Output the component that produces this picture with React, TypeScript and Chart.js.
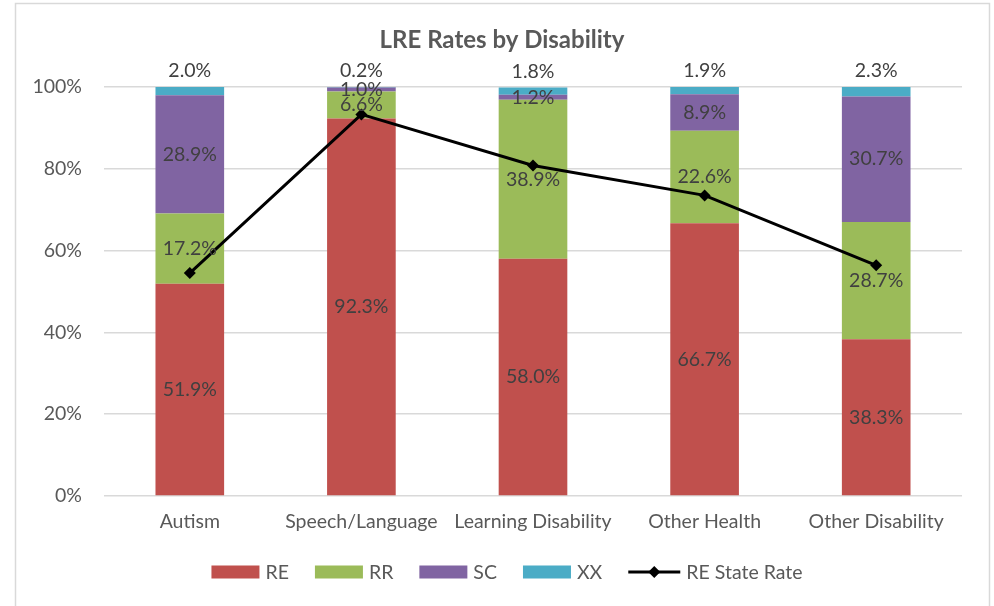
import React, { useEffect, useRef } from "react";
import { Chart, registerables } from "chart.js";

Chart.register(...registerables);

const categories = ["Autism", "Speech/Language", "Learning Disability", "Other Health", "Other Disability"];
const reValues = [51.9, 92.3, 58.0, 66.7, 38.3];
const rrValues = [17.2, 6.6, 38.9, 22.6, 28.7];
const scValues = [28.9, 1.0, 1.2, 8.9, 30.7];
const xxValues = [2.0, 0.2, 1.8, 1.9, 2.3];
const stateRate = [54.5, 93.3, 80.8, 73.5, 56.4];
const yTicks = [0, 20, 40, 60, 80, 100];

const FONT = "Lato, 'Open Sans', sans-serif";
const TEXT = "#595959";
const LABEL = "#404040";
const FS = 19.5;

const colors = { RE: "#C0504D", RR: "#9BBB59", SC: "#8064A2", XX: "#4BACC6" };

const decorPlugin = {
  id: "decor",
  beforeDraw(chart: any) {
    const ctx = chart.ctx;
    ctx.save();
    ctx.fillStyle = "#FFFFFF";
    ctx.fillRect(0, 0, chart.width, chart.height);
    ctx.strokeStyle = "#D9D9D9";
    ctx.lineWidth = 1.5;
    ctx.strokeRect(15.5, 3.5, 974, 640);
    ctx.restore();
  },
  afterDatasetsDraw(chart: any) {
    const ctx = chart.ctx;
    ctx.save();
    ctx.font = `${FS}px ${FONT}`;
    ctx.fillStyle = LABEL;
    ctx.textAlign = "center";
    ctx.textBaseline = "middle";
    for (let d = 0; d < 4; d++) {
      const meta = chart.getDatasetMeta(d);
      const ds = chart.data.datasets[d];
      meta.data.forEach((el: any, i: number) => {
        const v = ds.data[i] as number;
        const txt = v.toFixed(1) + "%";
        let y = (el.y + el.base) / 2;
        if (d === 3) y = el.y - 16;
        ctx.fillText(txt, el.x, y);
      });
    }
    ctx.restore();
  },
  afterDraw(chart: any) {
    const ctx = chart.ctx;
    ctx.save();
    // title
    ctx.font = `bold 24px ${FONT}`;
    ctx.fillStyle = TEXT;
    ctx.textAlign = "center";
    ctx.textBaseline = "middle";
    ctx.fillText("LRE Rates by Disability", 502, 40);

    // legend
    ctx.font = `${FS}px ${FONT}`;
    const items = [
      { name: "RE", color: colors.RE, line: false },
      { name: "RR", color: colors.RR, line: false },
      { name: "SC", color: colors.SC, line: false },
      { name: "XX", color: colors.XX, line: false },
      { name: "RE State Rate", color: "#000000", line: true },
    ];
    const boxW = 48;
    const lineW = 52;
    const gapText = 6;
    const gapItem = 26;
    let total = 0;
    items.forEach((it, idx) => {
      total += (it.line ? lineW : boxW) + gapText + ctx.measureText(it.name).width;
      if (idx < items.length - 1) total += gapItem;
    });
    let x = 507 - total / 2;
    const cy = 572;
    ctx.textAlign = "left";
    items.forEach((it) => {
      if (it.line) {
        ctx.strokeStyle = "#000";
        ctx.lineWidth = 3;
        ctx.beginPath();
        ctx.moveTo(x, cy);
        ctx.lineTo(x + lineW, cy);
        ctx.stroke();
        ctx.fillStyle = "#000";
        const mx = x + lineW / 2;
        ctx.beginPath();
        ctx.moveTo(mx, cy - 6);
        ctx.lineTo(mx + 6, cy);
        ctx.lineTo(mx, cy + 6);
        ctx.lineTo(mx - 6, cy);
        ctx.closePath();
        ctx.fill();
        x += lineW;
      } else {
        ctx.fillStyle = it.color;
        ctx.fillRect(x, cy - 6.5, boxW, 13);
        x += boxW;
      }
      x += gapText;
      ctx.fillStyle = TEXT;
      ctx.fillText(it.name, x, cy + 1);
      x += ctx.measureText(it.name).width + gapItem;
    });
    ctx.restore();
  },
};

export default function App() {
  const ref = useRef<HTMLCanvasElement | null>(null);

  useEffect(() => {
    document.body.style.margin = "0";
    if (!ref.current) return;
    const barDs = (label: string, data: number[], color: string) => ({
      type: "bar" as const,
      label,
      data,
      backgroundColor: color,
      borderWidth: 0,
      stack: "s",
      order: 2,
      categoryPercentage: 1,
      barPercentage: 0.4,
    });
    const chart = new Chart(ref.current, {
      type: "bar",
      data: {
        labels: categories,
        datasets: [
          barDs("RE", reValues, colors.RE),
          barDs("RR", rrValues, colors.RR),
          barDs("SC", scValues, colors.SC),
          barDs("XX", xxValues, colors.XX),
          {
            type: "line" as const,
            label: "RE State Rate",
            data: stateRate,
            borderColor: "#000000",
            backgroundColor: "#000000",
            borderWidth: 3,
            pointStyle: "rectRot",
            pointRadius: 6,
            pointBorderWidth: 0,
            stack: "line",
            order: 1,
            tension: 0,
          } as any,
        ],
      },
      options: {
        animation: false,
        responsive: false,
        maintainAspectRatio: false,
        layout: { padding: { left: 0, right: 32, top: 87, bottom: 0 } },
        plugins: {
          legend: { display: false },
          title: { display: false },
          tooltip: { enabled: false },
        },
        scales: {
          x: {
            stacked: true,
            grid: { display: false, drawTicks: false },
            border: { display: false },
            ticks: {
              color: TEXT,
              font: { family: FONT, size: FS },
              padding: 14,
              maxRotation: 0,
              autoSkip: false,
            },
            afterFit(scale: any) {
              scale.height = 110;
            },
          },
          y: {
            stacked: true,
            min: 0,
            max: 100,
            afterBuildTicks(scale: any) {
              scale.ticks = yTicks.map((v) => ({ value: v }));
            },
            grid: { color: "#D9D9D9", lineWidth: 1.5, drawTicks: false },
            border: { display: false },
            ticks: {
              color: TEXT,
              font: { family: FONT, size: FS },
              padding: 22,
              callback: (v: any) => v + "%",
            },
            afterFit(scale: any) {
              scale.width = 104;
            },
          },
        },
      },
      plugins: [decorPlugin],
    });
    return () => chart.destroy();
  }, []);

  return (
    <div style={{ position: "absolute", left: 0, top: 0, width: 994, height: 606 }}>
      <canvas ref={ref} width={994} height={606} style={{ width: 994, height: 606, display: "block" }} />
    </div>
  );
}
